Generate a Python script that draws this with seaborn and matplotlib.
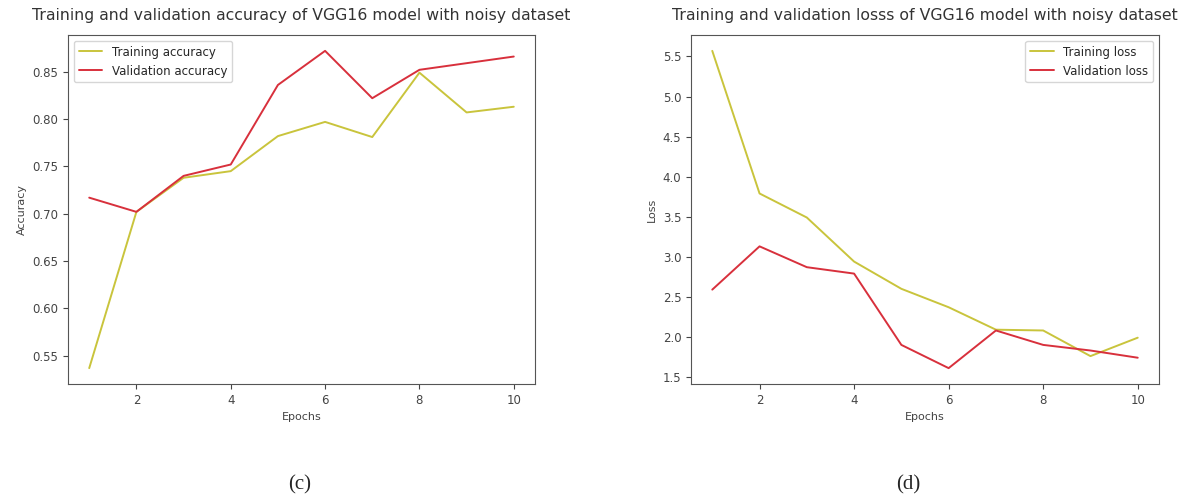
import pandas as pd
import matplotlib
import matplotlib.pyplot as plt
import seaborn as sns

matplotlib.use('Agg')

# data
epochs = [1, 2, 3, 4, 5, 6, 7, 8, 9, 10]
train_acc = [0.537, 0.702, 0.738, 0.745, 0.782, 0.797, 0.781, 0.849, 0.807, 0.813]
val_acc = [0.717, 0.702, 0.740, 0.752, 0.836, 0.872, 0.822, 0.852, 0.859, 0.866]
train_loss = [5.57, 3.79, 3.49, 2.94, 2.60, 2.37, 2.09, 2.08, 1.76, 1.99]
val_loss = [2.59, 3.13, 2.87, 2.79, 1.90, 1.61, 2.08, 1.90, 1.83, 1.74]

sns.set_style("ticks")
plt.rcParams['font.family'] = ['DejaVu Sans']

colors = ['#c9c43c', '#d8303c']

fig = plt.figure(figsize=(11.82, 5.01), dpi=100)
ax1 = fig.add_axes([68 / 1182, 1 - 384 / 501, 467 / 1182, 349 / 501])
ax2 = fig.add_axes([691 / 1182, 1 - 384 / 501, 468 / 1182, 349 / 501])

# 1. accuracy
acc = pd.DataFrame({
    'Epochs': epochs * 2,
    'value': train_acc + val_acc,
    'series': ['Training accuracy'] * 10 + ['Validation accuracy'] * 10,
})
sns.lineplot(data=acc, x='Epochs', y='value', hue='series', palette=colors,
             ax=ax1, linewidth=1.4)
ax1.set_ylabel('Accuracy', fontsize=8, color='#444444')
ax1.set_xlabel('Epochs', fontsize=8, color='#444444')
ax1.set_title('Training and validation accuracy of VGG16 model with noisy dataset',
              fontsize=11.3, color='#333333', pad=11)
ax1.legend(loc='upper left', fontsize=8.5)

# 2. loss
loss = pd.DataFrame({
    'Epochs': epochs * 2,
    'value': train_loss + val_loss,
    'series': ['Training loss'] * 10 + ['Validation loss'] * 10,
})
sns.lineplot(data=loss, x='Epochs', y='value', hue='series', palette=colors,
             ax=ax2, linewidth=1.4)
ax2.set_ylabel('Loss', fontsize=8, color='#444444')
ax2.set_xlabel('Epochs', fontsize=8, color='#444444')
ax2.set_title('Training and validation losss of VGG16 model with noisy dataset',
              fontsize=11.3, color='#333333', pad=11)
ax2.legend(loc='upper right', fontsize=8.5)

for ax in (ax1, ax2):
    ax.set_xticks([2, 4, 6, 8, 10])
    ax.tick_params(labelsize=8.5, colors='#444444')
    for s in ax.spines.values():
        s.set_color('#555555')

fig.text(300 / 1182, 1 - 485 / 501, '(c)', fontsize=15, family='Liberation Serif',
         ha='center', va='center')
fig.text(908 / 1182, 1 - 485 / 501, '(d)', fontsize=15, family='Liberation Serif',
         ha='center', va='center')

plt.savefig('out.png', dpi=100)
